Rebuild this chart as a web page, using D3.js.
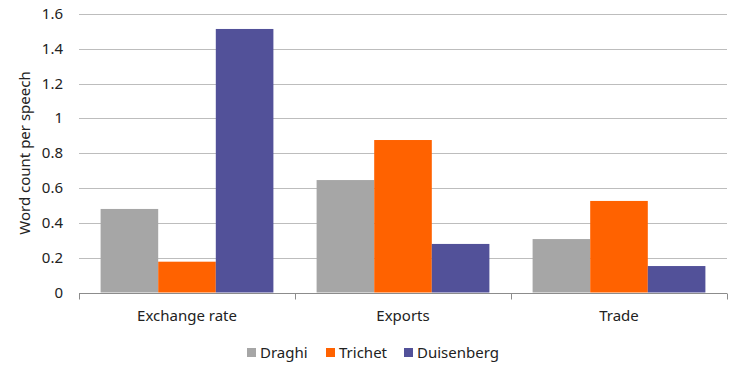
<!DOCTYPE html>
<html>
<head>
<meta charset="utf-8">
<script src="https://cdn.jsdelivr.net/npm/d3@7"></script>
<style>
  body { margin: 0; background: #fff; }
  svg { font-family: "Noto Sans", "Open Sans", sans-serif; }
</style>
</head>
<body>
<svg id="vis" width="737" height="374"></svg>
<script>
'use strict';

var categories = ['Exchange rate', 'Exports', 'Trade'];
var seriesNames = ['Draghi', 'Trichet', 'Duisenberg'];
var draghi = [0.48, 0.646, 0.307];
var trichet = [0.177, 0.876, 0.526];
var duisenberg = [1.514, 0.279, 0.152];
var yTicks = [0, 0.2, 0.4, 0.6, 0.8, 1, 1.2, 1.4, 1.6];
var colors = ['#a6a6a6', '#ff6200', '#525199'];

(function () {
    var values = [draghi, trichet, duisenberg];
    var svg = d3.select('#vis');
    var left = 79, right = 727, top = 14, bottom = 292.5;
    var fontSize = 15;

    var x = d3.scaleBand().domain(categories).range([left, right])
        .paddingInner(0.2).paddingOuter(0.1);
    var x1 = d3.scaleBand().domain(seriesNames).range([0, x.bandwidth()]);
    var y = d3.scaleLinear().domain([0, 1.6]).range([bottom, top]);

    // gridlines
    svg.append('g').selectAll('line')
        .data(yTicks.slice(1))
        .enter().append('line')
        .attr('x1', left).attr('x2', right)
        .attr('y1', function (d) { return Math.round(y(d)) + 0.5; })
        .attr('y2', function (d) { return Math.round(y(d)) + 0.5; })
        .attr('stroke', '#bdbdbd').attr('stroke-width', 1);

    // y tick labels
    svg.append('g').selectAll('text')
        .data(yTicks)
        .enter().append('text')
        .attr('x', 63)
        .attr('y', function (d) { return y(d) + 5; })
        .attr('text-anchor', 'end')
        .attr('font-size', fontSize)
        .attr('fill', '#222')
        .text(function (d) { return d; });

    // bars
    var groups = svg.append('g').selectAll('g')
        .data(categories)
        .enter().append('g')
        .attr('transform', function (d) { return 'translate(' + x(d) + ',0)'; });

    groups.selectAll('rect')
        .data(function (d, i) {
            return seriesNames.map(function (s, j) { return { s: s, v: values[j][i], j: j }; });
        })
        .enter().append('rect')
        .attr('x', function (d) { return x1(d.s); })
        .attr('y', function (d) { return y(d.v); })
        .attr('width', x1.bandwidth())
        .attr('height', function (d) { return bottom - y(d.v); })
        .attr('fill', function (d) { return colors[d.j]; });

    // x axis
    var xAxis = svg.append('g').attr('transform', 'translate(0,' + (Math.round(bottom) + 0.5) + ')');
    xAxis.append('line').attr('x1', left).attr('x2', right)
        .attr('stroke', '#8c8c8c');
    var bounds = [left].concat(categories.map(function (c) { return x(c) + x.bandwidth() + x.step() * 0.1; }));
    xAxis.selectAll('.tick')
        .data(bounds)
        .enter().append('line')
        .attr('x1', function (d) { return Math.round(d) + 0.5; })
        .attr('x2', function (d) { return Math.round(d) + 0.5; })
        .attr('y1', 0).attr('y2', 6)
        .attr('stroke', '#8c8c8c');
    xAxis.selectAll('text')
        .data(categories)
        .enter().append('text')
        .attr('x', function (d) { return x(d) + x.bandwidth() / 2; })
        .attr('y', 27)
        .attr('text-anchor', 'middle')
        .attr('font-size', fontSize)
        .attr('fill', '#222')
        .text(function (d) { return d; });

    // y axis title
    svg.append('text')
        .attr('transform', 'translate(30,' + 153 + ') rotate(-90)')
        .attr('text-anchor', 'middle')
        .attr('font-size', fontSize)
        .attr('fill', '#222')
        .text('Word count per speech');

    // legend
    var legendX = [247, 326, 404];
    var legend = svg.append('g').selectAll('g')
        .data(seriesNames)
        .enter().append('g')
        .attr('transform', function (d, i) { return 'translate(' + legendX[i] + ',348)'; });
    legend.append('rect')
        .attr('width', 9).attr('height', 9)
        .attr('fill', function (d, i) { return colors[i]; });
    legend.append('text')
        .attr('x', 13).attr('y', 10)
        .attr('font-size', fontSize)
        .attr('fill', '#222')
        .text(function (d) { return d; });
})();
</script>
</body>
</html>
